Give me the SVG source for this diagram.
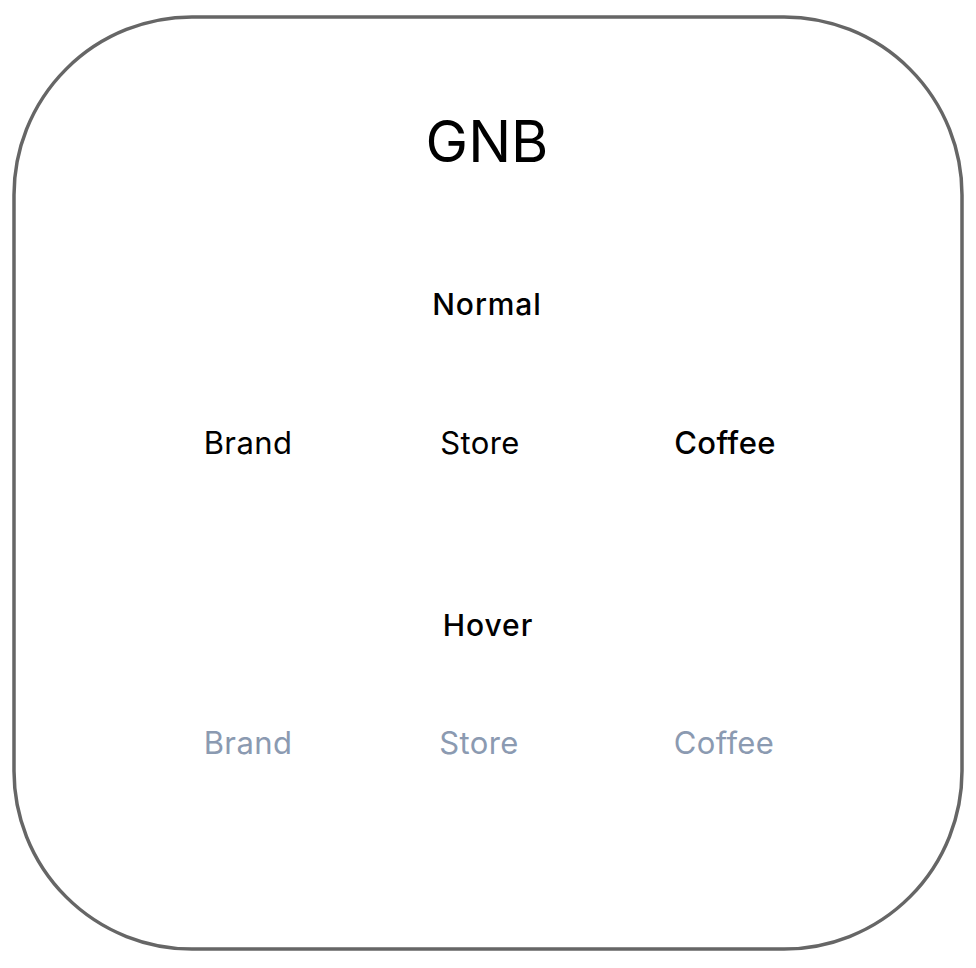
<svg xmlns="http://www.w3.org/2000/svg" width="976" height="968" viewBox="0 0 976 968">
<style>
text{font-family:Inter,"Noto Sans","Liberation Sans",sans-serif;text-anchor:middle;fill:#000}
.item{font-size:31px;letter-spacing:0.4px}
.label{font-size:30px;font-weight:500;letter-spacing:0.9px}
.hover{fill:#8b9ab1}
</style>
<rect width="976" height="968" fill="#fff"/>
<g id="gnb">
<rect x="14" y="17" width="948" height="932" rx="178" ry="178" fill="#fff" stroke="#666" stroke-width="3.5"/>
<text x="487" y="162" font-size="57">GNB</text>
</g>
<g id="normal">
<text class="label" x="487" y="315">Normal</text>
<text class="item" x="248" y="454">Brand</text>
<text class="item" x="480" y="454">Store</text>
<text class="item" x="725" y="454" font-weight="500">Coffee</text>
</g>
<g id="hover">
<text class="label" x="488" y="636">Hover</text>
<text class="item hover" x="248" y="754">Brand</text>
<text class="item hover" x="479" y="754">Store</text>
<text class="item hover" x="724" y="754">Coffee</text>
</g>
<g id="connectors"/>
</svg>
